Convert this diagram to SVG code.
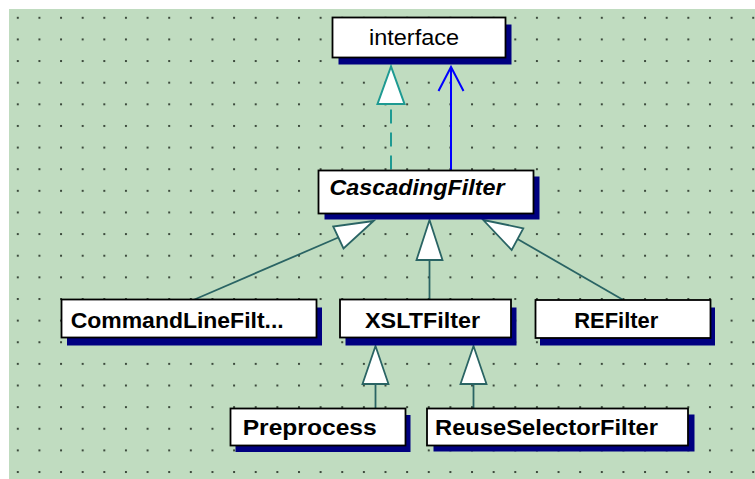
<svg xmlns="http://www.w3.org/2000/svg" width="755" height="479" viewBox="0 0 755 479">
  <defs>
    <!-- dotted drawing grid -->
    <pattern id="grid" patternUnits="userSpaceOnUse" x="16.8" y="16.8" width="21.63" height="21.63">
      <rect x="0" y="0" width="2" height="2" fill="#3c4a3c"/>
    </pattern>
    <style>
      .box { fill: #ffffff; stroke: #000000; stroke-width: 1.8; }
      .shadow { fill: #000080; }
      .lbl { font-family: "Liberation Sans", Arial, sans-serif; font-size: 22px; fill: #000000; }
      .b { font-weight: bold; }
      .gen { stroke: #2a6464; stroke-width: 1.8; fill: none; }
      .genhead { stroke: #2a6464; stroke-width: 1.8; fill: #ffffff; stroke-linejoin: miter; }
      .real { stroke: #1e9a92; stroke-width: 2; fill: none; stroke-dasharray: 14 9; }
      .realhead { stroke: #1e9a92; stroke-width: 2; fill: #ffffff; }
      .assoc { stroke: #0000ff; stroke-width: 2; fill: none; }
    </style>
  </defs>

  <!-- canvas -->
  <rect x="0" y="0" width="755" height="479" fill="#ffffff"/>
  <rect x="9" y="9" width="746" height="470" fill="#c0dcc0"/>
  <rect x="9" y="9" width="746" height="470" fill="url(#grid)"/>

  <g id="connectors">
    <!-- CascadingFilter realizes interface -->
    <line class="real" x1="391" y1="169.5" x2="391" y2="104"/>
    <polygon class="realhead" points="391,66.5 377.5,104 404.5,104"/>
    <!-- CascadingFilter navigates to interface -->
    <line class="assoc" x1="451" y1="170.5" x2="451" y2="67"/>
    <polyline class="assoc" points="438.5,91 451,67 463.5,91"/>
    <!-- CommandLineFilt... extends CascadingFilter -->
    <line class="gen" x1="194.5" y1="299.5" x2="338.3" y2="237.5"/>
    <polygon class="genhead" points="373.5,221 333.2,226.5 343.5,248.5"/>
    <!-- XSLTFilter extends CascadingFilter -->
    <line class="gen" x1="429.5" y1="260" x2="429.5" y2="299.5"/>
    <polygon class="genhead" points="429.5,220 416.5,260 442.5,260"/>
    <!-- REFilter extends CascadingFilter -->
    <line class="gen" x1="623.3" y1="300" x2="517.5" y2="239"/>
    <polygon class="genhead" points="483.3,220 523.3,228.3 511.7,250"/>
    <!-- Preprocess extends XSLTFilter -->
    <line class="gen" x1="375.5" y1="384" x2="375.5" y2="408.5"/>
    <polygon class="genhead" points="375.5,346 362.5,384 388.5,384"/>
    <!-- ReuseSelectorFilter extends XSLTFilter -->
    <line class="gen" x1="473.5" y1="384" x2="473.5" y2="408.5"/>
    <polygon class="genhead" points="473.5,346 460.5,384 486.5,384"/>
  </g>

  <g id="node-interface">
    <rect class="shadow" x="338.5" y="24.5" width="173" height="40"/>
    <rect class="box" x="332.5" y="17.5" width="173" height="40"/>
    <text class="lbl" x="369" y="44.5" textLength="90" lengthAdjust="spacingAndGlyphs">interface</text>
  </g>

  <g id="node-cascadingfilter">
    <rect class="shadow" x="324.5" y="176.5" width="215" height="43"/>
    <rect class="box" x="318.5" y="170.5" width="215" height="43"/>
    <text class="lbl b" font-style="italic" x="329.5" y="195" textLength="175" lengthAdjust="spacingAndGlyphs">CascadingFilter</text>
  </g>

  <g id="node-commandlinefilter">
    <rect class="shadow" x="67" y="307.5" width="255" height="38"/>
    <rect class="box" x="61.5" y="299.5" width="255" height="38"/>
    <text class="lbl b" x="70.7" y="327.5" textLength="213" lengthAdjust="spacingAndGlyphs">CommandLineFilt...</text>
  </g>

  <g id="node-xsltfilter">
    <rect class="shadow" x="345.5" y="307.5" width="171" height="38"/>
    <rect class="box" x="340" y="299.5" width="171" height="38"/>
    <text class="lbl b" x="365" y="327.5" textLength="115" lengthAdjust="spacingAndGlyphs">XSLTFilter</text>
  </g>

  <g id="node-refilter">
    <rect class="shadow" x="540" y="307.5" width="175" height="38"/>
    <rect class="box" x="535.5" y="300" width="175" height="38"/>
    <text class="lbl b" x="574.3" y="327.5" textLength="84" lengthAdjust="spacingAndGlyphs">REFilter</text>
  </g>

  <g id="node-preprocess">
    <rect class="shadow" x="235.5" y="415" width="175" height="37"/>
    <rect class="box" x="230.5" y="408.5" width="175" height="37"/>
    <text class="lbl b" x="242.7" y="435" textLength="134" lengthAdjust="spacingAndGlyphs">Preprocess</text>
  </g>

  <g id="node-reuseselectorfilter">
    <rect class="shadow" x="433.5" y="414.5" width="261" height="37"/>
    <rect class="box" x="427" y="408.5" width="261" height="37"/>
    <text class="lbl b" x="435" y="435" textLength="223" lengthAdjust="spacingAndGlyphs">ReuseSelectorFilter</text>
  </g>
</svg>
